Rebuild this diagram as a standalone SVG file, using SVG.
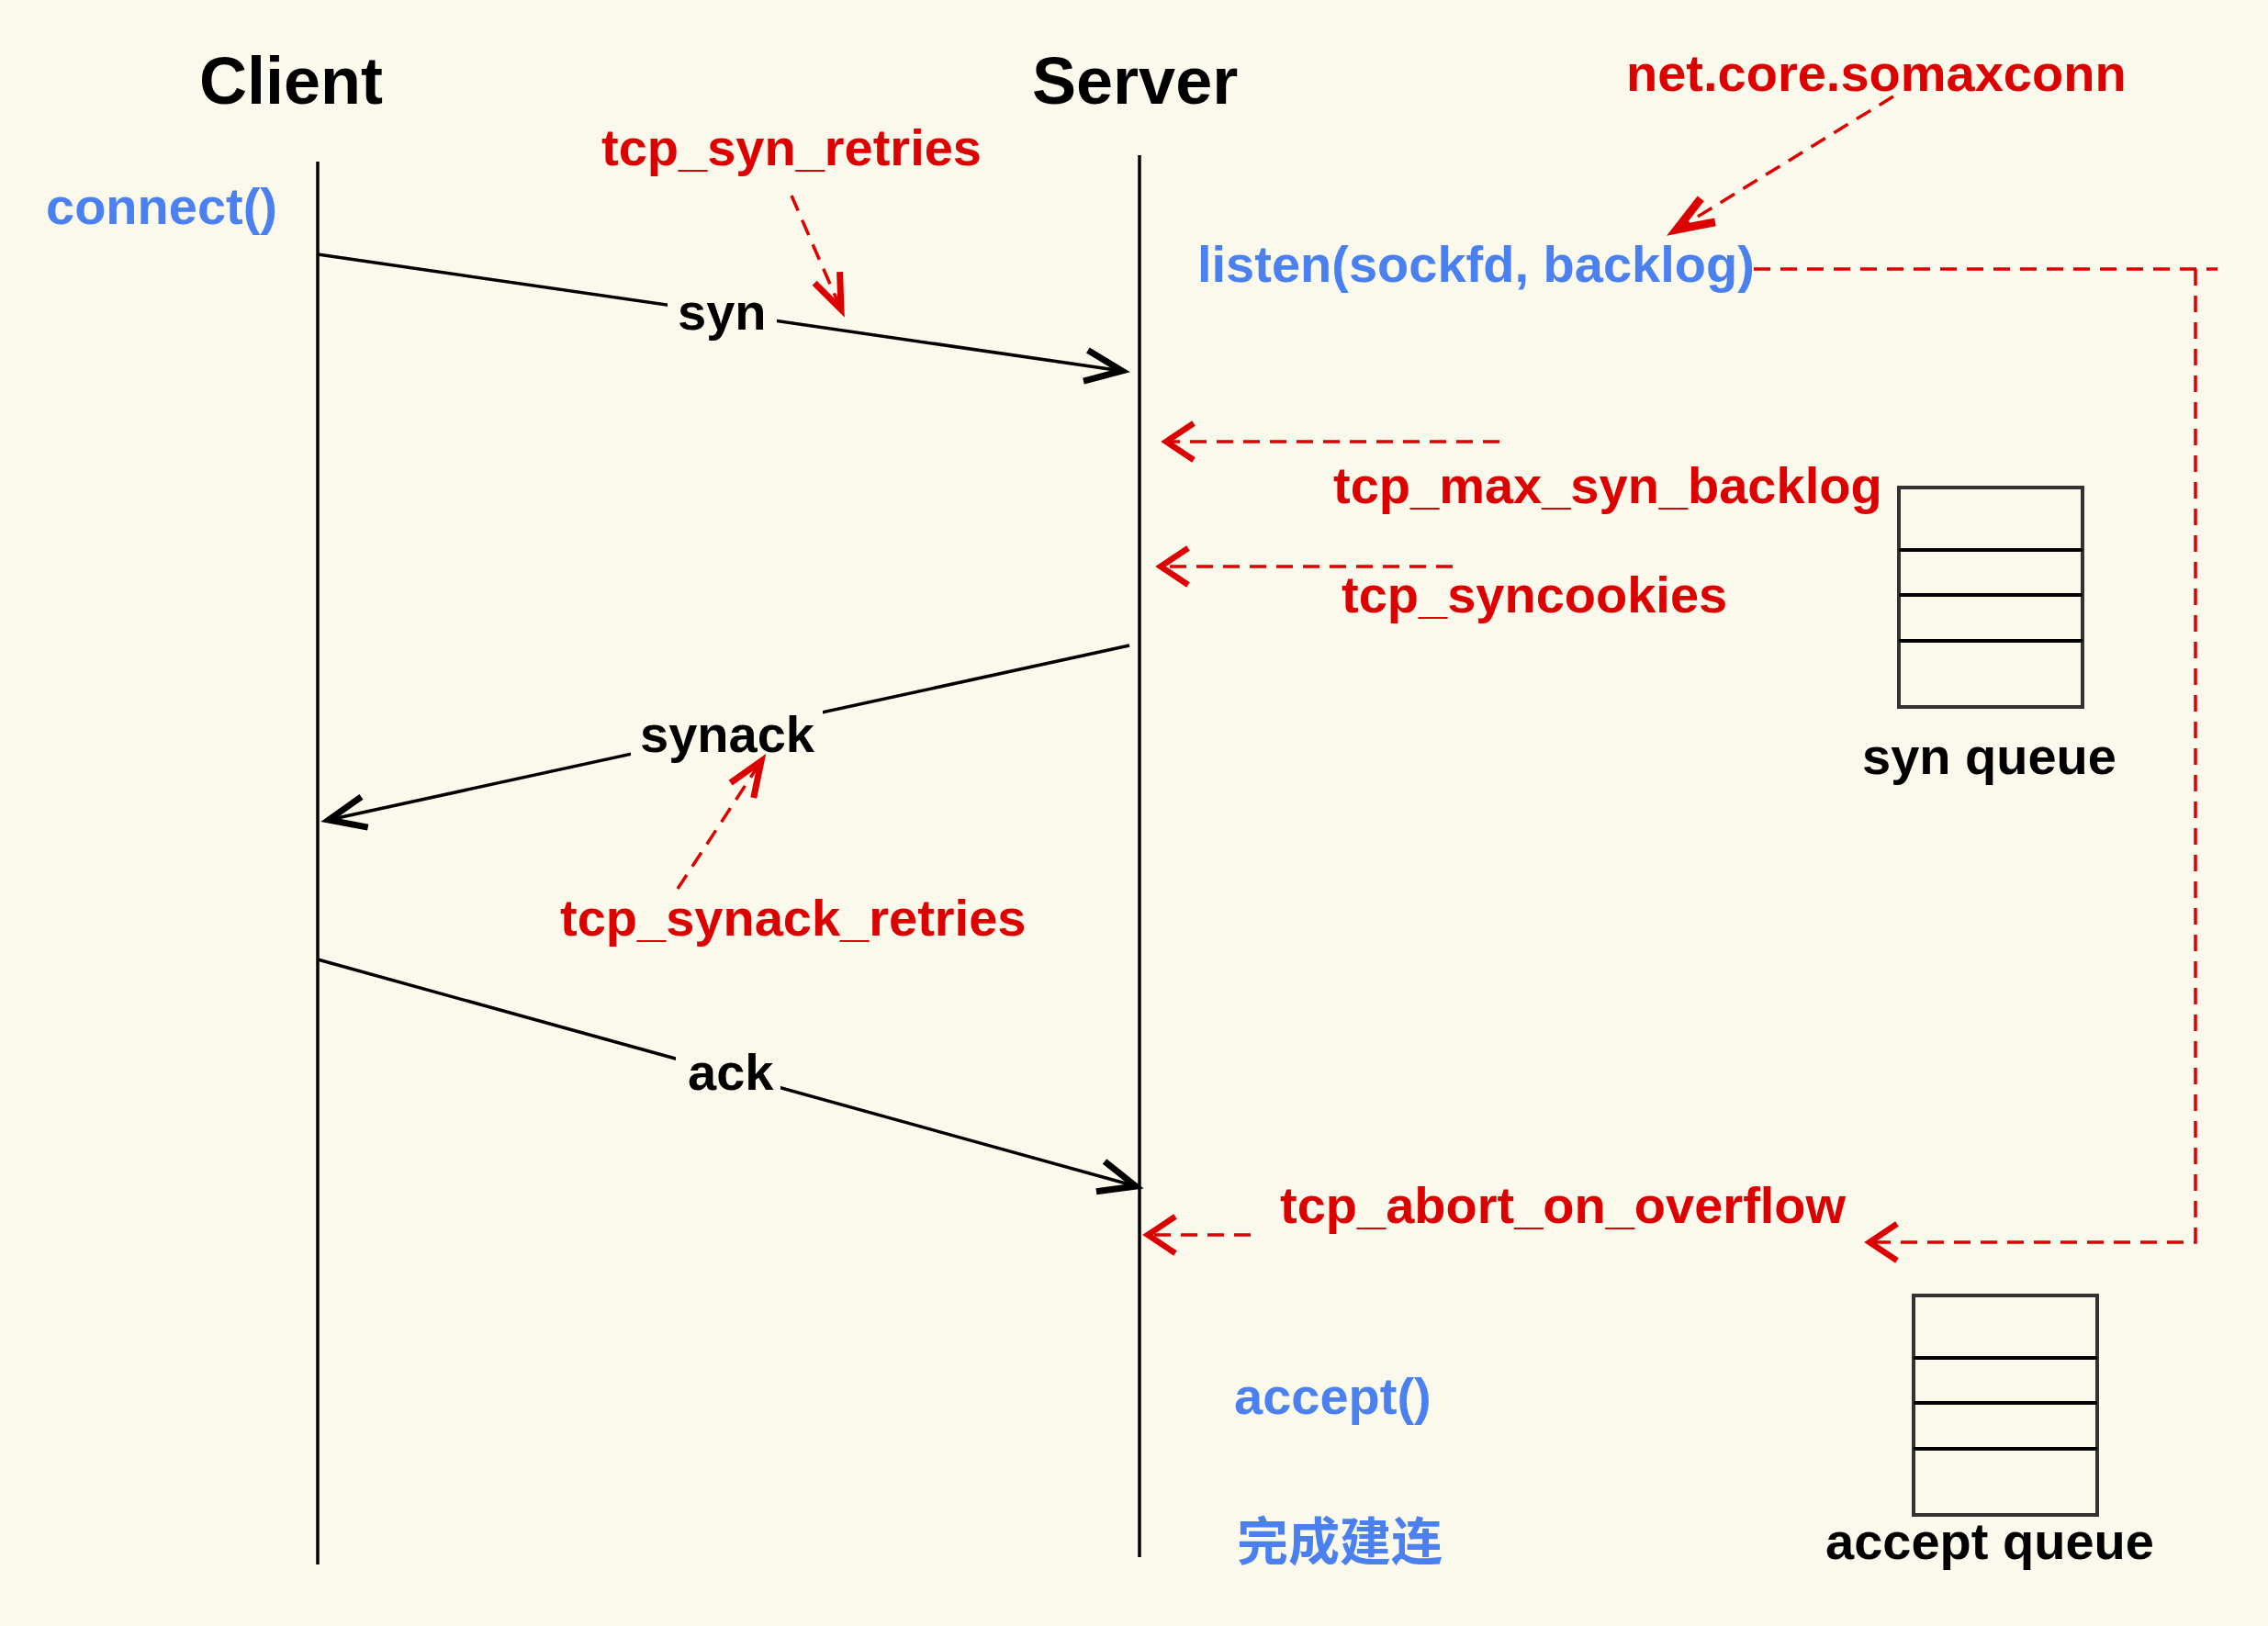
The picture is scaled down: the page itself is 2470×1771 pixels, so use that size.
<svg xmlns="http://www.w3.org/2000/svg" width="2470" height="1771" viewBox="0 0 2470 1771">
<style>
text{font-family:"Liberation Sans",Arial,"Noto Sans CJK SC",sans-serif;font-weight:bold}
.title{font-size:72px;fill:#000}
.api{font-size:56px;fill:#4a80f0}
.param{font-size:56px;fill:#dd0000}
.lbl{font-size:56px;fill:#000}
.life{stroke:#000;stroke-width:3.5;fill:none}
.msg{stroke:#000;stroke-width:3.5;fill:none;marker-end:url(#ab)}
.dash{stroke:#dd0000;stroke-width:3.5;fill:none;stroke-dasharray:18 11}
.bg{fill:#fbf9ec}
.qbox{fill:none;stroke:#333;stroke-width:4}
.qdiv{stroke:#000;stroke-width:4}
</style>
<defs>
<marker id="ab" markerUnits="userSpaceOnUse" markerWidth="60" markerHeight="60" viewBox="-50 -30 60 60" refX="0" refY="0" orient="auto" overflow="visible">
<path d="M-40,-17 L0,0 L-40,17" fill="none" stroke="#000" stroke-width="7"/>
</marker>
<marker id="rw" markerUnits="userSpaceOnUse" markerWidth="60" markerHeight="60" viewBox="-40 -30 60 60" refX="0" refY="0" orient="auto" overflow="visible">
<path d="M-30,-20 L0,0 L-30,20" fill="none" stroke="#dd0000" stroke-width="6.5"/>
</marker>
<marker id="rn" markerUnits="userSpaceOnUse" markerWidth="60" markerHeight="60" viewBox="-50 -30 60 60" refX="0" refY="0" orient="auto" overflow="visible">
<path d="M-38,-15 L0,0 L-38,15" fill="none" stroke="#dd0000" stroke-width="7"/>
</marker>
<marker id="rf" markerUnits="userSpaceOnUse" markerWidth="60" markerHeight="60" viewBox="-50 -30 60 60" refX="0" refY="0" orient="auto" overflow="visible">
<path d="M-40,-15 L0,0 L-40,15" fill="none" stroke="#dd0000" stroke-width="9"/>
</marker>
</defs>
<rect x="0" y="0" width="2470" height="1771" fill="#fbf9ec"/>

<g id="client">
<text class="title" x="217" y="113">Client</text>
<line class="life" x1="346" y1="176" x2="346" y2="1704"/>
<text class="api" x="50" y="244">connect()</text>
</g>

<g id="server">
<text class="title" x="1124" y="113">Server</text>
<line class="life" x1="1241" y1="169" x2="1241" y2="1696"/>
<text class="api" x="1304" y="307">listen(sockfd, backlog)</text>
<text class="api" x="1344" y="1540">accept()</text>
<text class="api" x="1347" y="1699" style="font-family:'Noto Sans CJK SC','Liberation Sans',sans-serif">完成建连</text>
</g>

<g id="syn-queue">
<rect class="qbox" x="2068" y="531" width="200" height="239"/>
<line class="qdiv" x1="2068" y1="599" x2="2268" y2="599"/>
<line class="qdiv" x1="2068" y1="648" x2="2268" y2="648"/>
<line class="qdiv" x1="2068" y1="698" x2="2268" y2="698"/>
<text class="lbl" x="2028" y="843">syn queue</text>
</g>

<g id="accept-queue">
<rect class="qbox" x="2084" y="1411" width="200" height="239"/>
<line class="qdiv" x1="2084" y1="1479" x2="2284" y2="1479"/>
<line class="qdiv" x1="2084" y1="1528" x2="2284" y2="1528"/>
<line class="qdiv" x1="2084" y1="1578" x2="2284" y2="1578"/>
<text class="lbl" x="1988" y="1698">accept queue</text>
</g>

<g id="connectors">
<line class="msg" x1="346" y1="277" x2="1222" y2="404"/>
<line class="msg" x1="1230" y1="703" x2="358" y2="893"/>
<line class="msg" x1="346" y1="1045" x2="1237" y2="1292"/>
</g>

<g id="message-labels">
<rect class="bg" x="727" y="318" width="119" height="58"/>
<text class="lbl" x="738" y="359">syn</text>
<rect class="bg" x="687" y="770" width="209" height="62"/>
<text class="lbl" x="697" y="819">synack</text>
<rect class="bg" x="736" y="1138" width="114" height="62"/>
<text class="lbl" x="749" y="1187">ack</text>
</g>

<g id="params">
<text class="param" x="655" y="180">tcp_syn_retries</text>
<text class="param" x="1771" y="99">net.core.somaxconn</text>
<text class="param" x="1452" y="548">tcp_max_syn_backlog</text>
<text class="param" x="1461" y="667">tcp_syncookies</text>
<text class="param" x="610" y="1019">tcp_synack_retries</text>
<text class="param" x="1394" y="1332">tcp_abort_on_overflow</text>
</g>

<g id="param-connectors">
<line class="dash" x1="862" y1="213" x2="916" y2="337" marker-end="url(#rn)"/>
<line class="dash" x1="2062" y1="105" x2="1826" y2="250" marker-end="url(#rf)"/>
<path class="dash" d="M1910,293 H2415"/>
<path class="dash" d="M2391,293 V1353 H2036" marker-end="url(#rw)"/>
<line class="dash" x1="1633" y1="481" x2="1270" y2="481" marker-end="url(#rw)"/>
<line class="dash" x1="1582" y1="617" x2="1264" y2="617" marker-end="url(#rw)"/>
<line class="dash" x1="738" y1="968" x2="829" y2="829" marker-end="url(#rn)"/>
<line class="dash" x1="1362" y1="1345" x2="1250" y2="1345" marker-end="url(#rw)"/>
</g>
</svg>
